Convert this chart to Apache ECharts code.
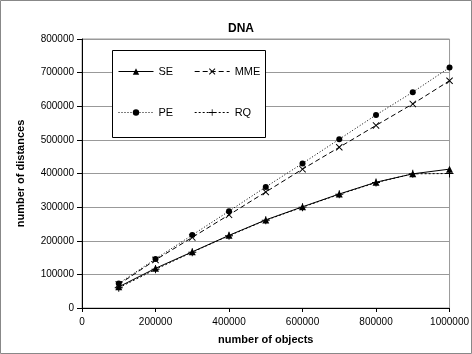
<!DOCTYPE html>
<html><head><meta charset="utf-8">
<script src="https://cdn.jsdelivr.net/npm/echarts@6/dist/echarts.min.js"></script>
<style>html,body{margin:0;padding:0;background:#fff}#c{width:472px;height:354px}</style>
</head><body><div id="c"></div>
<script>
const xValues = [100000,200000,300000,400000,500000,600000,700000,800000,900000,1000000];
const seValues  = [63000,118000,167000,216000,262000,301000,339000,374000,399000,413000];
const mmeValues = [70000,143000,210000,277000,345000,413000,478000,543000,607000,676000];
const peValues  = [73000,146000,217000,288000,360000,430000,502000,574000,642000,715000];
const rqValues  = [60000,115000,166000,215000,261000,300000,338000,373000,399000,400000];
const xTicks = [0,200000,400000,600000,800000,1000000];
const yTicks = [0,100000,200000,300000,400000,500000,600000,700000,800000];

const font = 'Liberation Sans, Arial, sans-serif';
const X_PATH = 'path://M0,1L1,0L5,4L9,0L10,1L6,5L10,9L9,10L5,6L1,10L0,9L4,5Z';
const PLUS_PATH = 'path://M4.4,0H5.6V4.4H10V5.6H5.6V10H4.4V5.6H0V4.4H4.4Z';
const pair = arr => xValues.map((x,i)=>[x,arr[i]]);

function mk(name, data, symbol, size, dash){
  return {name, type:'line', data:pair(data), symbol, symbolSize:size,
    lineStyle:{color:'#000', width:1, type:dash},
    itemStyle:{color:'#000'}, animation:false};
}
const legendText = {fontFamily:font, fontSize:11, color:'#000'};
const legendBase = {left:118, padding:0, itemWidth:35, itemHeight:8, itemGap:21, z:10,
  textStyle:legendText, lineStyle:{width:1}};

const chart = echarts.init(document.getElementById('c'));
chart.setOption({
  animation:false,
  title:{text:'DNA', left:236, textAlign:'center', top:18,
    textStyle:{fontFamily:font, fontSize:12, fontWeight:'bold', color:'#000'}},
  grid:{left:82, right:19, top:39, bottom:46, show:true, borderColor:'#999', borderWidth:1},
  graphic:[
    {type:'rect', shape:{x:0.5,y:0.5,width:471,height:353}, style:{fill:'none', stroke:'#888', lineWidth:1}, z:-1},
    {type:'rect', shape:{x:112.5,y:50.5,width:153,height:87}, style:{fill:'#fff', stroke:'#000', lineWidth:1}, z:5}
  ],
  legend:[
    Object.assign({data:['SE','MME'], top:66}, legendBase),
    Object.assign({data:['PE','RQ'], top:107}, legendBase)
  ],
  xAxis:{type:'value', min:0, max:1000000, interval:200000,
    name:'number of objects', nameLocation:'middle', nameGap:26,
    nameTextStyle:{fontFamily:font, fontSize:11, fontWeight:'bold', color:'#000'},
    axisLine:{lineStyle:{color:'#000'}}, axisTick:{show:true, inside:false, length:4, lineStyle:{color:'#000'}},
    axisLabel:{fontFamily:font, fontSize:10, color:'#000', margin:9, showMaxLabel:true, formatter:v=>String(v)},
    splitLine:{show:false}},
  yAxis:{type:'value', min:0, max:800000, interval:100000,
    name:'number of distances', nameLocation:'middle', nameGap:56, nameRotate:90,
    nameTextStyle:{fontFamily:font, fontSize:11, fontWeight:'bold', color:'#000'},
    axisLine:{show:true, lineStyle:{color:'#000'}}, axisTick:{show:true, length:5, lineStyle:{color:'#000'}},
    axisLabel:{fontFamily:font, fontSize:10, color:'#000', margin:8, formatter:v=>String(v)},
    splitLine:{show:true, lineStyle:{color:'#999', width:1}}},
  series:[
    mk('SE', seValues, 'triangle', 7, 'solid'),
    mk('MME', mmeValues, X_PATH, 7, [5,3]),
    mk('PE', peValues, 'circle', 6, [1,2]),
    mk('RQ', rqValues, PLUS_PATH, 8, [2,2])
  ]
});
</script></body></html>
